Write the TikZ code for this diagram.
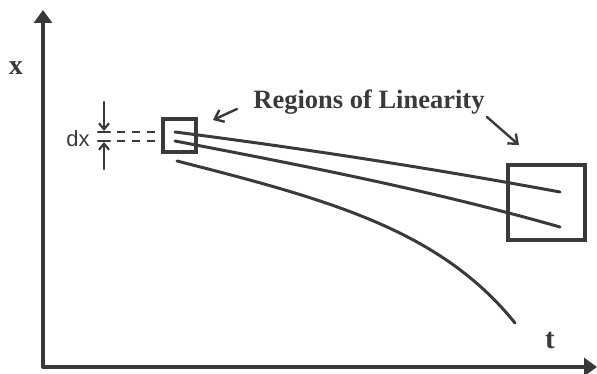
\documentclass[tikz,border=0pt]{standalone}
\usepackage{fontspec}
\setmainfont{Liberation Serif}
\newfontfamily\dxfont{Liberation Sans}
\usetikzlibrary{arrows.meta}
\definecolor{ink}{HTML}{3A3A3A}
\tikzset{
  ink/.style={draw=ink, line width=3pt, line cap=round},
  axis/.style={ink, line width=3.4pt, -{Triangle[length=13pt,width=18pt]}},
  pointer/.style={ink, line width=2.4pt, -{Straight Barb[length=8pt,width=13pt]}},
  tiny/.style={ink, line width=2.2pt, -{Straight Barb[length=6pt,width=10pt]}},
  boxnode/.style={draw=ink, line width=3.4pt, inner sep=0pt},
  lbl/.style={text=ink, inner sep=0pt, font=\bfseries},
}
\begin{document}
\begin{tikzpicture}[x=1pt,y=-1pt]
\useasboundingbox (0,0) rectangle (597,374);
% axes
\coordinate (O) at (43,367);
\coordinate (ytop) at (43,10);
\coordinate (xright) at (597,367);
\draw[axis] (O) -- (ytop);
\draw[axis] (O) -- (xright);
\node[lbl, font=\bfseries\fontsize{28}{30}\selectfont] (xl) at (16,68) {x};
\node[lbl, font=\bfseries\fontsize{29}{31}\selectfont] (tl) at (550,340) {t};
% boxes
\node[boxnode, minimum width=33pt, minimum height=33pt] (sb) at (179.5,135.5) {};
\node[boxnode, minimum width=77pt, minimum height=75pt] (lb) at (546.5,202.5) {};
% trajectories
\coordinate (a1) at (175,132);
\coordinate (a2) at (560,192);
\coordinate (b1) at (175,141);
\coordinate (b2) at (560,227);
\coordinate (c1) at (177,161);
\coordinate (c2) at (515,323);
\draw[ink] (a1) .. controls (300,148) and (430,168) .. (a2);
\draw[ink] (b1) .. controls (300,165) and (430,190) .. (b2);
\draw[ink] (c1) .. controls (330,200) and (440,230) .. (c2);
% dashed extensions
\coordinate (d1) at (117,132);
\coordinate (d2) at (165,132);
\coordinate (e1) at (117,141);
\coordinate (e2) at (165,141);
\draw[ink, line width=2.4pt, line cap=butt, dash pattern=on 8pt off 7pt] (d1) -- (d2);
\draw[ink, line width=2.4pt, line cap=butt, dash pattern=on 8pt off 7pt] (e1) -- (e2);
% dx marker
\coordinate (u1) at (104,102);
\coordinate (u2) at (104,131);
\coordinate (v1) at (104,169);
\coordinate (v2) at (104,142);
\draw[tiny] (u1) -- (u2);
\draw[tiny] (v1) -- (v2);
\coordinate (t1l) at (98,132);
\coordinate (t1r) at (110,132);
\coordinate (t2l) at (98,141);
\coordinate (t2r) at (110,141);
\draw[ink, line width=2.2pt] (t1l) -- (t1r);
\draw[ink, line width=2.2pt] (t2l) -- (t2r);
\node[text=ink, inner sep=0pt, font=\dxfont\fontsize{22}{24}\selectfont] (dx) at (78,139) {dx};
% label and pointers
\node[lbl, font=\bfseries\fontsize{26.5}{30}\selectfont] (reg) at (369,102) {Regions of Linearity};
\coordinate (p1s) at (237,109);
\coordinate (p1e) at (213,120);
\coordinate (p2s) at (487,117);
\coordinate (p2e) at (519,145);
\draw[pointer] (p1s) -- (p1e);
\draw[pointer] (p2s) -- (p2e);
\end{tikzpicture}
\end{document}
